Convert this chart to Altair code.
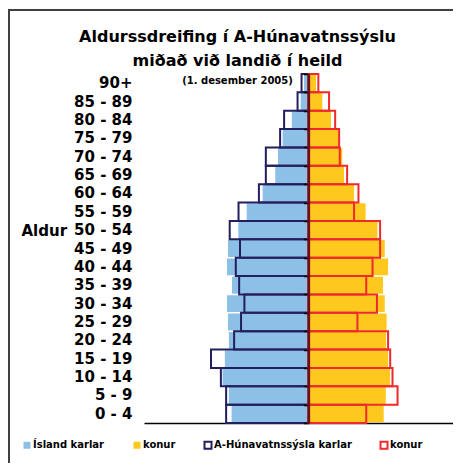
import altair as alt
import pandas as pd

# Age groups, bottom (youngest) to top (oldest)
ages = ["0 - 4", "5 - 9", "10 - 14", "15 - 19", "20 - 24", "25 - 29", "30 - 34",
        "35 - 39", "40 - 44", "45 - 49", "50 - 54", "55 - 59", "60 - 64", "65 - 69",
        "70 - 74", "75 - 79", "80 - 84", "85 - 89", "90+"]

# Share of population (%) per age group
island_karlar = [3.66, 3.79, 4.09, 3.98, 3.79, 3.83, 3.88, 3.64, 3.88, 3.83,
                 3.34, 2.94, 2.18, 1.58, 1.45, 1.23, 0.79, 0.37, 0.21]
island_konur = [3.58, 3.68, 3.88, 3.79, 3.69, 3.72, 3.63, 3.55, 3.79, 3.63,
                3.28, 2.72, 2.17, 1.69, 1.61, 1.44, 1.07, 0.66, 0.36]
hun_karlar = [3.92, 3.92, 4.17, 4.64, 3.54, 3.21, 3.05, 3.30, 3.46, 3.26,
              3.75, 3.33, 2.36, 2.03, 2.03, 1.35, 1.16, 0.52, 0.33]
hun_konur = [2.75, 4.24, 4.00, 3.89, 3.79, 2.33, 3.26, 2.75, 3.05, 3.41,
             3.41, 2.17, 2.38, 1.84, 1.49, 1.46, 1.27, 0.98, 0.47]

series_domain = ["Ísland karlar", "Ísland konur",
                 "A-Húnavatnssýsla karlar", "A-Húnavatnssýsla konur"]
fill_range = ["#8dc0e7", "#ffc81e", "transparent", "transparent"]
stroke_range = ["transparent", "transparent", "#231f5f", "#ee2a2a"]

rows = []
for i, a in enumerate(ages):
    rows.append({"age": a, "series": series_domain[0], "value": -island_karlar[i], "grp": 0})
    rows.append({"age": a, "series": series_domain[1], "value": island_konur[i], "grp": 0})
    rows.append({"age": a, "series": series_domain[2], "value": -hun_karlar[i], "grp": 1})
    rows.append({"age": a, "series": series_domain[3], "value": hun_konur[i], "grp": 1})
df = pd.DataFrame(rows)

age_order = list(reversed(ages))
FONT = "DejaVu Sans"

legend = alt.Legend(
    title=None, orient="none", direction="horizontal", legendX=-122, legendY=366,
    symbolType="square", symbolSize=49, symbolStrokeWidth=2,
    labelFont=FONT, labelFontSize=10, labelFontWeight="bold", labelColor="black",
    labelOffset=1, columnPadding=24,
    labelExpr="(datum.label == 'Ísland konur' || datum.label == 'A-Húnavatnssýsla konur') ? 'konur' : datum.label",
)

fill_enc = alt.Fill("series:N", scale=alt.Scale(domain=series_domain, range=fill_range), legend=legend)
stroke_enc = alt.Stroke("series:N", scale=alt.Scale(domain=series_domain, range=stroke_range), legend=legend)

x_enc = alt.X("value:Q", stack=None,
              scale=alt.Scale(domain=[-7.83, 6.88], nice=False, zero=False),
              axis=alt.Axis(labels=False, ticks=False, grid=False, domain=True,
                            domainColor="black", domainWidth=1.5, title=None))

y_scale = alt.Scale(paddingInner=0, paddingOuter=0)

y_main = alt.Y("age:N", sort=age_order, scale=y_scale,
               axis=alt.Axis(title="Aldur", titleAngle=0, titleAlign="left", titleBaseline="middle",
                             titleX=-123, titleY=156, titleFont=FONT, titleFontSize=15,
                             titleFontWeight="bold", titleColor="black",
                             labelFont=FONT, labelFontSize=15, labelFontWeight="bold",
                             labelColor="black", labelPadding=12, ticks=False, domain=False,
                             grid=False))

island = alt.Chart(df).transform_filter("datum.grp == 0").mark_bar(
    height=alt.RelativeBandSize(0.92), strokeWidth=0
).encode(x=x_enc, y=y_main, fill=fill_enc, stroke=stroke_enc)

hun = alt.Chart(df).transform_filter("datum.grp == 1").mark_bar(strokeWidth=2).encode(
    x=x_enc, y=alt.Y("age:N", sort=age_order, scale=y_scale, axis=None),
    fill=fill_enc, stroke=stroke_enc)

center = alt.Chart(df).transform_filter("datum.grp == 1").mark_tick(opacity=0).encode(
    y=alt.Y("age:N", sort=age_order, scale=y_scale,
            axis=alt.Axis(orient="left", offset=-164.4, labels=False, title=None,
                          domain=True, domainColor="#6d0f14", domainWidth=2.5,
                          ticks=True, tickBand="extent", tickColor="black", tickSize=5,
                          tickWidth=1.5, grid=False, zindex=1)))

frame_df = pd.DataFrame({"k": [0]})
frame_top = alt.Chart(frame_df).mark_rule(color="#404040", strokeWidth=2).encode(
    x=alt.value(-135), x2=alt.value(320), y=alt.value(-64))
frame_left = alt.Chart(frame_df).mark_rule(color="#404040", strokeWidth=2).encode(
    x=alt.value(-135), y=alt.value(-65), y2=alt.value(400))

chart = alt.layer(frame_top, frame_left, island, hun, center).resolve_axis(
    y="independent"
).properties(
    width=309, height=349,
    autosize=alt.AutoSizeParams(type="none"),
    padding={"left": 136, "top": 66, "right": 0, "bottom": 40},
    title=alt.TitleParams(
        text=["Aldurssdreifing í A-Húnavatnssýslu", "miðað við landið í heild"],
        subtitle="(1. desember 2005)",
        font=FONT, fontSize=16, fontWeight="bold", color="black", lineHeight=24,
        subtitleFont=FONT, subtitleFontSize=10, subtitleFontWeight="bold",
        subtitleColor="black", subtitlePadding=7, frame="group",
        anchor="middle", dx=-61, dy=68, offset=-10,
    ),
).configure_view(stroke=None)

chart.save("out.html", embed_options={"renderer": "svg", "actions": False})
